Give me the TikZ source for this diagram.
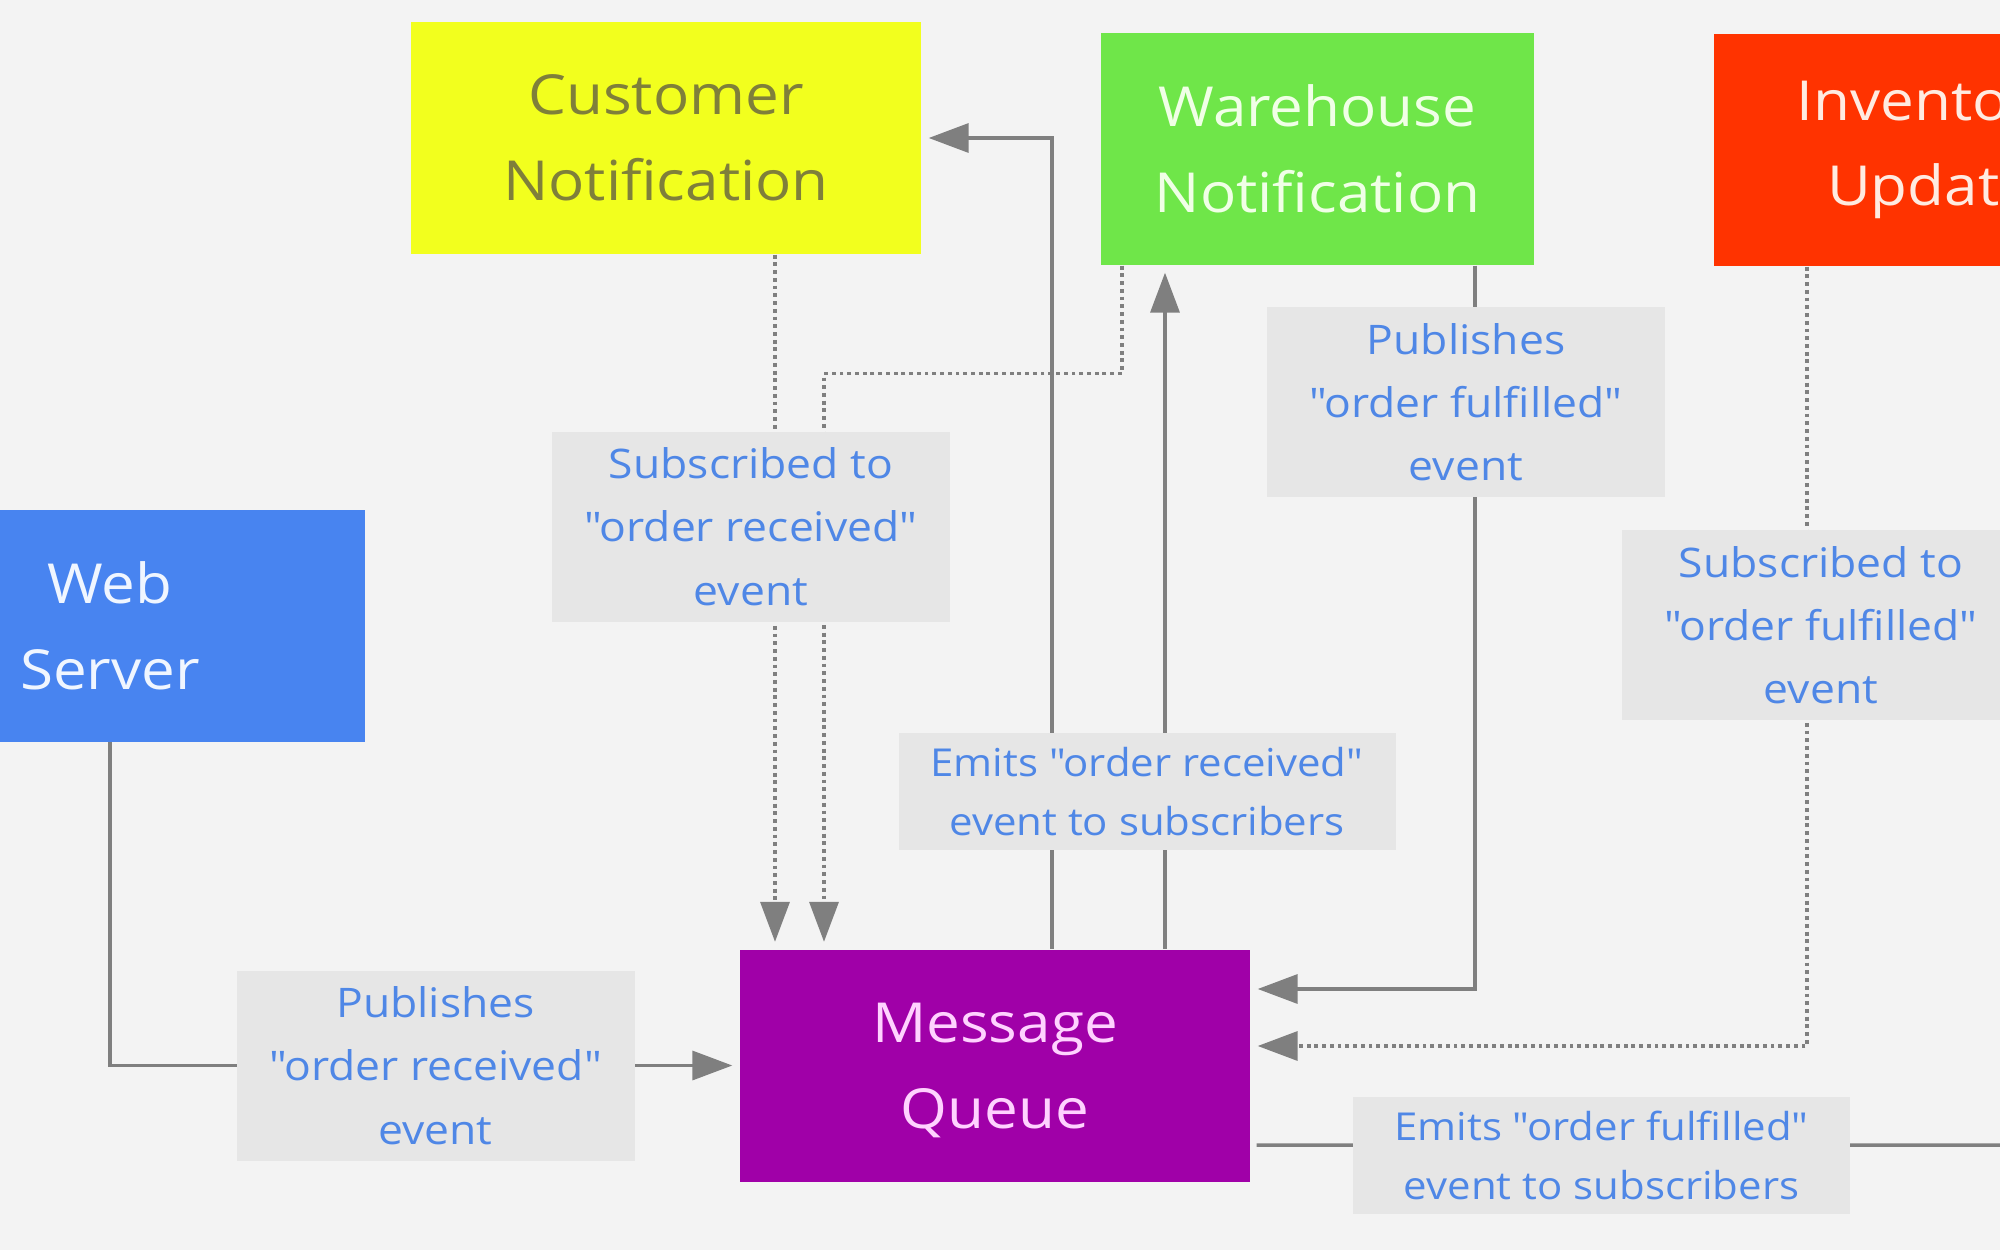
\documentclass[tikz,border=0pt]{standalone}
\usepackage{fontspec}
\setmainfont{Open Sans}[FakeStretch=1.09,Ligatures=TeXOff]
\usetikzlibrary{arrows.meta}
\definecolor{Canvas}{HTML}{F3F3F3}
\definecolor{Wire}{HTML}{7F7F7F}
\definecolor{TagFill}{HTML}{E6E6E6}
\definecolor{TagText}{HTML}{4F87E6}
\definecolor{CustFill}{HTML}{F2FF1E}
\definecolor{CustText}{HTML}{7F7F3A}
\definecolor{WareFill}{HTML}{6FE649}
\definecolor{WareText}{HTML}{F0FFE6}
\definecolor{InvFill}{HTML}{FF3300}
\definecolor{InvText}{HTML}{FFEBE1}
\definecolor{WebFill}{HTML}{4884F0}
\definecolor{WebText}{HTML}{F0F6FF}
\definecolor{QueueFill}{HTML}{A000A8}
\definecolor{QueueText}{HTML}{FFD2FF}

\begin{document}
\begin{tikzpicture}[x=1cm,y=1cm,>={Triangle[length=4mm,width=2.9mm]},
    svc/.style={minimum width=5.1cm,minimum height=2.32cm,inner sep=0pt,align=center,
      font=\fontsize{15.7}{24.4}\selectfont},
    tag/.style={fill=TagFill,text=TagText,minimum width=3.98cm,minimum height=1.9cm,
      inner sep=0pt,align=center,font=\fontsize{11.6}{18}\selectfont},
    emit/.style={tag,minimum width=4.97cm,minimum height=1.17cm,
      font=\fontsize{10.95}{16.7}\selectfont},
    flow/.style={draw=Wire,line width=1pt,->,shorten >=0.7mm},
    sub/.style={flow,dash pattern=on 1.1pt off 1.1pt}]
    \useasboundingbox (0,0) rectangle (20,-12.5);
    \clip (0,0) rectangle (20,-12.5);
    \fill[Canvas] (0,0) rectangle (20,-12.5);

    \node[svc,fill=CustFill,text=CustText] (cust) at (6.66,-1.38) {Customer\\Notification};
    \node[svc,minimum width=4.33cm,fill=WareFill,text=WareText] (ware) at (13.175,-1.49) {Warehouse\\Notification};
    \node[svc,minimum width=4.33cm,fill=InvFill,text=InvText] (inv) at (19.30,-1.50) {Inventory\\Update};
    \node[svc,fill=WebFill,text=WebText] (web) at (1.10,-6.255) {Web\\Server};
    \node[svc,fill=QueueFill,text=QueueText] (mq) at (9.95,-10.655) {Message\\\smash{Queue}};

    \draw[flow] (web.south) |- (mq.west);
    \draw[flow] ([xshift=5.7mm]mq.north) |- (cust.east);
    \draw[flow] ([xshift=17mm]mq.north) -- ([xshift=17mm]mq.north |- ware.south);
    \draw[flow] ([xshift=15.75mm]ware.south) |- ([yshift=7.65mm]mq.east);
    \draw[sub] ([xshift=10.9mm]cust.south) -- ([xshift=10.9mm]cust.south |- mq.north);
    \draw[sub] ([xshift=-19.55mm]ware.south) -- ++(0,-1.08) -| ([xshift=-17.1mm]mq.north);
    \draw[sub] ([xshift=-12.3mm]inv.south) |- ([yshift=1.95mm]mq.east);
    \coordinate (offright) at (20.5,-11.45);
    \draw[draw=Wire,line width=1pt,shorten <=0.6mm] ([yshift=-7.95mm]mq.east) -- (offright);

    \node[tag] (subrcv) at (7.51,-5.265) {Subscribed to\\"order received"\\event};
    \node[tag] (pubful) at (14.66,-4.02) {Publishes\\"order fulfilled"\\event};
    \node[tag] (subful) at (18.21,-6.25) {Subscribed to\\"order fulfilled"\\event};
    \node[emit] (emitrcv) at (11.47,-7.915) {Emits "order received"\\event to subscribers};
    \node[tag] (pubrcv) at (4.355,-10.655) {Publishes\\"order received"\\event};
    \node[emit] (emitful) at (16.015,-11.555) {Emits "order fulfilled"\\event to subscribers};
  \end{tikzpicture}
\end{document}
